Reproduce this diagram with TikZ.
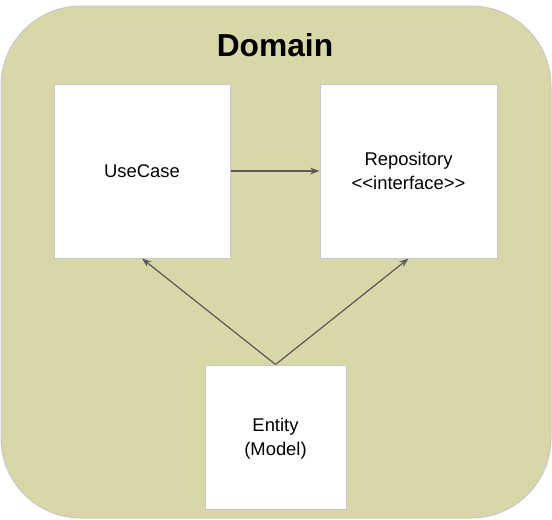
\documentclass[tikz,border=0pt]{standalone}
\usepackage{fontspec}
\setmainfont{Liberation Sans}
\usetikzlibrary{arrows.meta}
\definecolor{domfill}{HTML}{D9D7A8}
\definecolor{edgegray}{HTML}{C8C8CC}
\definecolor{arrowgray}{HTML}{595959}
\newcommand{\lt}{\mbox{<}}
\newcommand{\gtx}{\mbox{>}}
\begin{document}
\begin{tikzpicture}[x=0.75pt,y=-0.75pt,
  box/.style={draw=edgegray, fill=white, line width=0.75pt, align=center, font=\fontsize{13.8}{17.8}\selectfont},
  conn/.style={draw=arrowgray, line width=0.9pt, -{Stealth[length=7pt,width=5pt]}}]
\useasboundingbox (0,0) rectangle (552,519);
\draw[edgegray, fill=domfill, line width=0.75pt, rounded corners=60pt] (1,6) rectangle (551,518);
\node[font=\bfseries\fontsize{23.8}{27}\selectfont] (title) at (275,45) {Domain};
\node[box, minimum width=132pt, minimum height=130.5pt] (uc) at (142,171) {UseCase};
\node[box, minimum width=132.75pt, minimum height=130.5pt] (repo) at (408.5,171) {Repository\\\lt\lt interface\gtx\gtx};
\node[box, minimum width=105.75pt, minimum height=108pt] (ent) at (275.5,437) {};
\node[align=center, font=\fontsize{13.8}{17.8}\selectfont] (entlabel) at (275.5,439) {Entity\\(Model)};
\draw[conn] (uc.east) -- (repo.west);
\draw[conn] (ent.north) -- (uc.south);
\draw[conn] (ent.north) -- (repo.south);
\end{tikzpicture}
\end{document}
